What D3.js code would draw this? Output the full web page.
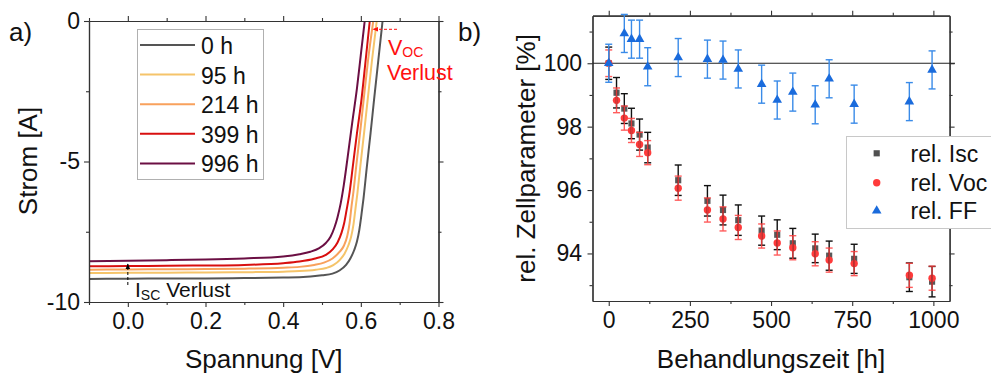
<!DOCTYPE html>
<html><head><meta charset="utf-8">
<script src="https://cdn.jsdelivr.net/npm/d3@7"></script>
<style>
body{margin:0;background:#fff}
svg{display:block}
text{font-family:"Liberation Sans",Arial,sans-serif}
</style></head><body>
<svg id="c" width="991" height="377"></svg>
<script>
// ---------- Panel a data: I-V curves [V, I] ----------
const ivLabels = ["0 h","95 h","214 h","399 h","996 h"];
const iv0h = [[-0.1,-9.18],[0,-9.17],[0.1,-9.165],[0.2,-9.16],[0.3,-9.15],[0.4,-9.13],[0.442,-9.12],[0.5,-9.05],[0.527,-8.99],[0.545,-8.88],[0.562,-8.68],[0.573,-8.45],[0.583,-8.15],[0.59,-7.85],[0.596,-7.44],[0.602,-6.85],[0.607,-6.3],[0.615,-5.25],[0.625,-4.0],[0.634,-2.81],[0.645,-1.4],[0.656,0]];
const iv95h = [[-0.1,-8.97],[0,-8.96],[0.1,-8.955],[0.2,-8.95],[0.3,-8.94],[0.4,-8.92],[0.442,-8.9],[0.484,-8.85],[0.511,-8.79],[0.529,-8.69],[0.546,-8.5],[0.558,-8.28],[0.568,-7.98],[0.575,-7.68],[0.581,-7.25],[0.586,-6.7],[0.591,-6.15],[0.599,-5.13],[0.609,-3.9],[0.618,-2.75],[0.629,-1.37],[0.641,0]];
const iv214h = [[-0.1,-8.85],[0,-8.84],[0.1,-8.835],[0.2,-8.83],[0.3,-8.815],[0.4,-8.78],[0.442,-8.75],[0.48,-8.68],[0.505,-8.6],[0.527,-8.45],[0.545,-8.22],[0.557,-7.98],[0.565,-7.65],[0.571,-7.2],[0.576,-6.6],[0.581,-6.07],[0.589,-5.06],[0.599,-3.86],[0.608,-2.71],[0.619,-1.35],[0.632,0]];
const iv399h = [[-0.1,-8.73],[0,-8.72],[0.1,-8.71],[0.2,-8.7],[0.3,-8.68],[0.4,-8.62],[0.442,-8.56],[0.48,-8.46],[0.51,-8.32],[0.528,-8.12],[0.54,-7.88],[0.55,-7.55],[0.557,-7.2],[0.563,-6.75],[0.57,-6.2],[0.58,-5.1],[0.59,-4.0],[0.602,-2.75],[0.612,-1.45],[0.623,0]];
const iv996h = [[-0.1,-8.55],[0,-8.53],[0.1,-8.51],[0.2,-8.49],[0.3,-8.45],[0.4,-8.38],[0.442,-8.3],[0.47,-8.21],[0.493,-8.08],[0.51,-7.9],[0.522,-7.68],[0.532,-7.35],[0.54,-6.98],[0.548,-6.5],[0.556,-5.85],[0.566,-4.85],[0.578,-3.6],[0.59,-2.4],[0.6,-1.2],[0.61,0]];
const vTicks = [0,0.2,0.4,0.6,0.8];
const vTickLabels = ["0.0","0.2","0.4","0.6","0.8"];
const iTicks = [-10,-5,0];
const iTickLabels = ["-10","-5","0"];

// ---------- Panel b data ----------
const hours = [0,24,48,70,95,120,214,304,352,399,471,519,567,636,679,756,926,996];
const relIsc = [100,99.07,98.57,98.1,97.75,97.34,96.31,95.66,95.37,95.05,94.72,94.59,94.32,94.16,93.93,93.83,93.25,93.11];
const relIscErr = [0.51,0.48,0.47,0.48,0.49,0.48,0.48,0.48,0.47,0.48,0.46,0.47,0.47,0.45,0.46,0.46,0.45,0.48];
const relVoc = [100,98.83,98.27,97.88,97.44,97.18,96.06,95.37,95.09,94.82,94.55,94.33,94.18,93.99,93.79,93.68,93.31,93.22];
const relVocErr = [0.42,0.39,0.38,0.38,0.38,0.38,0.38,0.38,0.38,0.38,0.38,0.38,0.38,0.38,0.38,0.38,0.38,0.38];
const ffHours = [0,48,70,95,120,214,304,352,399,471,519,567,636,679,756,926,996];
const relFF = [100,100.94,100.76,100.76,99.89,100.18,100.13,100.1,99.82,99.34,98.84,99.09,98.69,99.51,98.71,98.79,99.79];
const relFFErr = [0.6,0.6,0.6,0.6,0.6,0.6,0.6,0.6,0.6,0.6,0.6,0.6,0.6,0.6,0.6,0.6,0.6];
const hTicks = [0,250,500,750,1000];
const pTicks = [94,96,98,100];
const seriesLabels = ["rel. Isc","rel. Voc","rel. FF"];

// ---------- styles ----------
const ivColors = ["#555555","#f5c46a","#f8a15c","#d80f0f","#6b0f43"];
const FONT = "Liberation Sans, Arial, sans-serif";
const svg = d3.select("#c");

function styleAxis(sel){
  sel.select(".domain").attr("stroke","#333").attr("stroke-width",1.2);
  sel.selectAll(".tick line").attr("stroke","#333").attr("stroke-width",1.1);
  sel.selectAll("text").attr("font-size",23).attr("fill","#111").attr("font-family",FONT);
}
function frame(g, x, y, xMaj, xMin, yMaj, yMin, xFmt, yFmt, padL){
  const [xl,xr]=x.range(), [yb,yt]=y.range();
  const add=(tr,ax)=>g.append("g").attr("transform",tr).call(ax.tickSizeOuter(0)).call(styleAxis);
  add(`translate(0,${yb})`, d3.axisBottom(x).tickValues(xMin).tickSize(3).tickFormat(""));
  add(`translate(0,${yt})`, d3.axisTop(x).tickValues(xMin).tickSize(3).tickFormat(""));
  add(`translate(${xl},0)`, d3.axisLeft(y).tickValues(yMin).tickSize(3).tickFormat(""));
  add(`translate(${xr},0)`, d3.axisRight(y).tickValues(yMin).tickSize(3).tickFormat(""));
  add(`translate(0,${yb})`, d3.axisBottom(x).tickValues(xMaj).tickSize(5).tickPadding(6).tickFormat(xFmt));
  add(`translate(0,${yt})`, d3.axisTop(x).tickValues(xMaj).tickSize(5).tickFormat(""));
  add(`translate(${xl},0)`, d3.axisLeft(y).tickValues(yMaj).tickSize(5).tickPadding(padL).tickFormat(yFmt));
  add(`translate(${xr},0)`, d3.axisRight(y).tickValues(yMaj).tickSize(5).tickFormat(""));
}

// ================= Panel a =================
const xA = d3.scaleLinear().domain([-0.1,0.8]).range([89,438.5]);
const yA = d3.scaleLinear().domain([-10,0]).range([302,21]);
const gA = svg.append("g");
svg.append("defs").append("clipPath").attr("id","clipA").append("rect")
  .attr("x",89).attr("y",21).attr("width",349.5).attr("height",281);
const curves = [iv0h,iv95h,iv214h,iv399h,iv996h];
const line = d3.line().x(d=>xA(d[0])).y(d=>yA(d[1])).curve(d3.curveMonotoneX);
gA.append("g").attr("clip-path","url(#clipA)").selectAll("path").data(curves).join("path")
  .attr("d",line).attr("fill","none").attr("stroke",(d,i)=>ivColors[i]).attr("stroke-width",2);
frame(gA, xA, yA, vTicks, [-0.1,0.1,0.3,0.5,0.7], iTicks, [-7.5,-2.5],
  (d,i)=>vTickLabels[i], (d,i)=>iTickLabels[i], 4);

// legend a
const legA = gA.append("g");
legA.append("rect").attr("x",137.5).attr("y",29.5).attr("width",126).attr("height",150)
  .attr("fill","#fff").attr("stroke","#b0b0b0").attr("stroke-width",1);
ivLabels.forEach((lab,i)=>{
  const yy = 45 + i*29.6;
  legA.append("line").attr("x1",140).attr("x2",195).attr("y1",yy).attr("y2",yy)
    .attr("stroke",ivColors[i]).attr("stroke-width",2);
  legA.append("text").attr("x",201).attr("y",yy+9).attr("font-size",23).attr("fill","#111").text(lab);
});

// annotations a
const defs = svg.select("defs");
defs.append("marker").attr("id","arrR").attr("viewBox","0 0 10 10").attr("refX",9).attr("refY",5)
  .attr("markerWidth",6).attr("markerHeight",6).attr("orient","auto")
  .append("path").attr("d","M0,1L10,5L0,9Z").attr("fill","#ff1010");
defs.append("marker").attr("id","arrK").attr("viewBox","0 0 10 10").attr("refX",9).attr("refY",5)
  .attr("markerWidth",6).attr("markerHeight",6).attr("orient","auto")
  .append("path").attr("d","M0,1L10,5L0,9Z").attr("fill","#000");
gA.append("line").attr("x1",397).attr("x2",373).attr("y1",29.3).attr("y2",29.3)
  .attr("stroke","#ff1010").attr("stroke-width",1).attr("stroke-dasharray","3,2").attr("marker-end","url(#arrR)");
gA.append("line").attr("x1",xA(0)).attr("x2",xA(0)).attr("y1",285).attr("y2",264)
  .attr("stroke","#000").attr("stroke-width",1).attr("stroke-dasharray","3,2").attr("marker-end","url(#arrK)");
const vt = gA.append("text").attr("x",388).attr("y",55).attr("font-family","Open Sans, sans-serif").attr("font-size",21.5).attr("fill","#ff1010");
vt.append("tspan").text("V");
vt.append("tspan").attr("font-size",14).attr("dy",2).text("OC");
gA.append("text").attr("x",387).attr("y",80).attr("font-family","Open Sans, sans-serif").attr("font-size",21.5).attr("fill","#ff1010").text("Verlust");
const it = gA.append("text").attr("x",135).attr("y",297).attr("font-family","Open Sans, sans-serif").attr("font-size",21).attr("fill","#111");
it.append("tspan").text("I");
it.append("tspan").attr("font-size",14).attr("dy",3).text("SC");
it.append("tspan").attr("dy",-3).text(" Verlust");

gA.append("text").attr("x",(89+438.5)/2).attr("y",368).attr("text-anchor","middle").attr("font-size",26).attr("fill","#111").text("Spannung [V]");
gA.append("text").attr("transform","translate(37,161) rotate(-90)").attr("text-anchor","middle").attr("font-size",26).attr("fill","#111").text("Strom [A]");
svg.append("text").attr("x",9).attr("y",41).attr("font-size",26).attr("fill","#111").text("a)");

// ================= Panel b =================
const xB = d3.scaleLinear().domain([-50,1050]).range([592.5,949.6]);
const yB = d3.scaleLinear().domain([92.5,101.5]).range([301,15.7]);
const gB = svg.append("g");
frame(gB, xB, yB, hTicks, [125,375,625,875], pTicks, [93,95,97,99,101],
  d=>String(d), d=>String(d), 5.5);
gB.append("line").attr("x1",592.5).attr("x2",955).attr("y1",yB(100)).attr("y2",yB(100))
  .attr("stroke","#222").attr("stroke-width",1.2);

function errBars(xs, ys, es, color, op){
  const g = gB.append("g").attr("stroke",color).attr("stroke-width",1.4).attr("opacity",op);
  xs.forEach((h,i)=>{
    const x = xB(h), y1 = yB(ys[i]-es[i]), y2 = yB(ys[i]+es[i]);
    g.append("line").attr("x1",x).attr("x2",x).attr("y1",y1).attr("y2",y2);
    g.append("line").attr("x1",x-3.5).attr("x2",x+3.5).attr("y1",y1).attr("y2",y1);
    g.append("line").attr("x1",x-3.5).attr("x2",x+3.5).attr("y1",y2).attr("y2",y2);
  });
}
const sq = d3.symbol().type(d3.symbolSquare).size(38);
const tri = d3.symbol().type(d3.symbolTriangle).size(40);
gB.append("g").selectAll("path").data(hours).join("path")
  .attr("transform",(h,i)=>`translate(${xB(h)},${yB(relIsc[i])})`).attr("d",sq()).attr("fill","#505050").attr("opacity",0.95);
gB.append("g").selectAll("circle").data(hours).join("circle")
  .attr("cx",h=>xB(h)).attr("cy",(h,i)=>yB(relVoc[i])).attr("r",3.7).attr("fill","#ff3b3b");
errBars(hours, relIsc, relIscErr, "#111", 1);
errBars(hours, relVoc, relVocErr, "#ff4040", 0.85);
errBars(ffHours, relFF, relFFErr, "#3a8be8", 1);
gB.append("g").selectAll("path").data(ffHours).join("path")
  .attr("transform",(h,i)=>`translate(${xB(h)},${yB(relFF[i])})`).attr("d",tri()).attr("fill","#1a6bdc");

// legend b
const legB = gB.append("g");
legB.append("rect").attr("x",846.5).attr("y",136.5).attr("width",160).attr("height",92)
  .attr("fill","#fff").attr("stroke","#c8c8c8").attr("stroke-width",1);
const ly = [153.3,182.7,210.7];
legB.append("path").attr("transform",`translate(876.7,${ly[0]})`).attr("d",sq()).attr("fill","#505050");
legB.append("circle").attr("cx",876.7).attr("cy",ly[1]).attr("r",3.7).attr("fill","#ff3b3b");
legB.append("path").attr("transform",`translate(876.7,${ly[2]})`).attr("d",tri()).attr("fill","#1a6bdc");
seriesLabels.forEach((s,i)=>legB.append("text").attr("x",910.5).attr("y",ly[i]+8.4).attr("font-size",23).attr("fill","#111").text(s));

gB.append("text").attr("x",(592.5+949.6)/2).attr("y",368).attr("text-anchor","middle").attr("font-size",26).attr("fill","#111").text("Behandlungszeit [h]");
gB.append("text").attr("transform","translate(535,158.4) rotate(-90)").attr("text-anchor","middle").attr("font-size",26).attr("fill","#111").text("rel. Zellparameter [%]");
svg.append("text").attr("x",458).attr("y",41).attr("font-size",26).attr("fill","#111").text("b)");
</script>
</body></html>
